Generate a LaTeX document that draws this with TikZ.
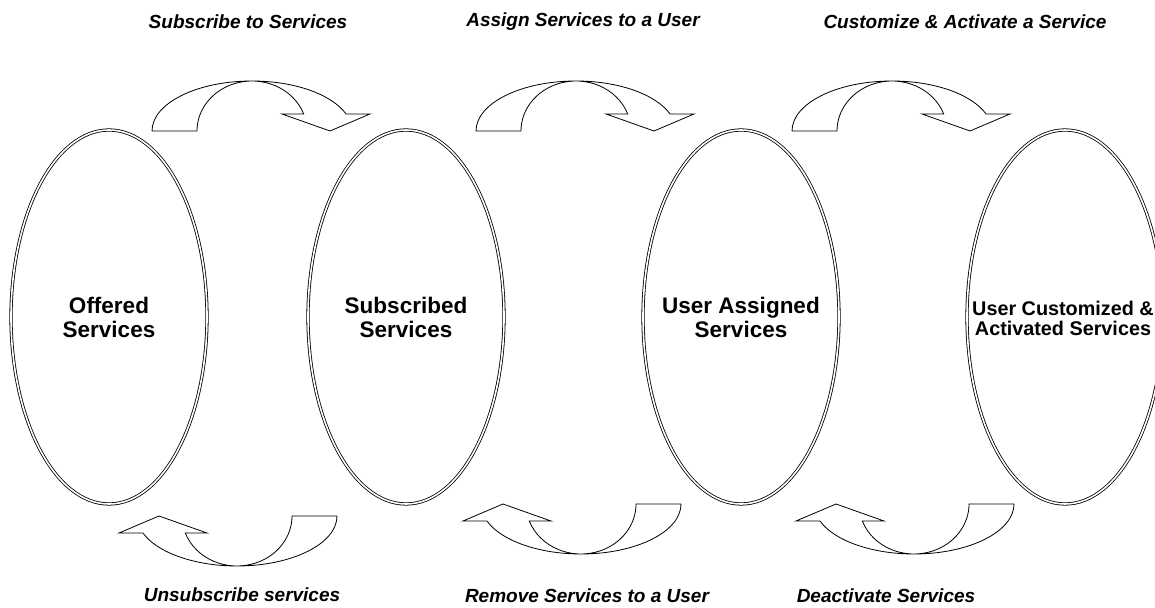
\documentclass[tikz,border=0pt]{standalone}
\usepackage{fontspec}
\setmainfont{Liberation Sans}
\usetikzlibrary{shapes.geometric}
\tikzset{
  state/.style={ellipse, draw, line width=0.8pt, double, double distance=1.6pt,
    minimum width=196pt, minimum height=374pt, inner sep=0pt},
  stxt/.style={align=center, inner sep=0pt, font=\bfseries\fontsize{22.5}{24}\selectfont},
  lbl/.style={font=\bfseries\itshape\fontsize{19}{22}\selectfont, inner sep=0pt},
  carrow/.pic={
    \draw[line width=0.8pt, line join=miter, fill=white]
      (0,0) arc[start angle=180, end angle=19.9, x radius=100, y radius=50]
      -- (218,17) -- (178,0) -- (130,17) -- (151.7,17)
      arc[start angle=19.9, end angle=180, x radius=55, y radius=50] -- cycle;
  }
}
\begin{document}
\begin{tikzpicture}[x=1pt, y=1pt]
\useasboundingbox (0,0) rectangle (1155,607);
\clip (0,0) rectangle (1155,607);
% states
\node[state] (off) at (109,290) {};
\node[state] (sub) at (406,290) {};
\node[state] (asg) at (741,290) {};
\node[state] (act) at (1065,290) {};
\node[stxt] (offt) at (off.center) {Offered\\Services};
\node[stxt] (subt) at (sub.center) {Subscribed\\Services};
\node[stxt] (asgt) at (asg.center) {User Assigned\\Services};
\node[stxt, font=\bfseries\fontsize{19.8}{20}\selectfont] (actt) at (1063,289)
  {User Customized \&\\Activated Services};
% curved block arrows
\pic at (152,476) {carrow};
\pic at (476,476) {carrow};
\pic at (792,476) {carrow};
\pic[rotate=180] at (337,91) {carrow};
\pic[rotate=180] at (681,103) {carrow};
\pic[rotate=180] at (1014,103) {carrow};
% labels
\node[lbl] (l1) at (248,585) {Subscribe to Services};
\node[lbl] (l2) at (583,585) {Assign Services to a User};
\node[lbl] (l3) at (965,585) {Customize \& Activate a Service};
\node[lbl] (l4) at (242,12) {Unsubscribe services};
\node[lbl] (l5) at (587,11) {Remove Services to a User};
\node[lbl] (l6) at (886,11) {Deactivate Services};
\end{tikzpicture}
\end{document}
